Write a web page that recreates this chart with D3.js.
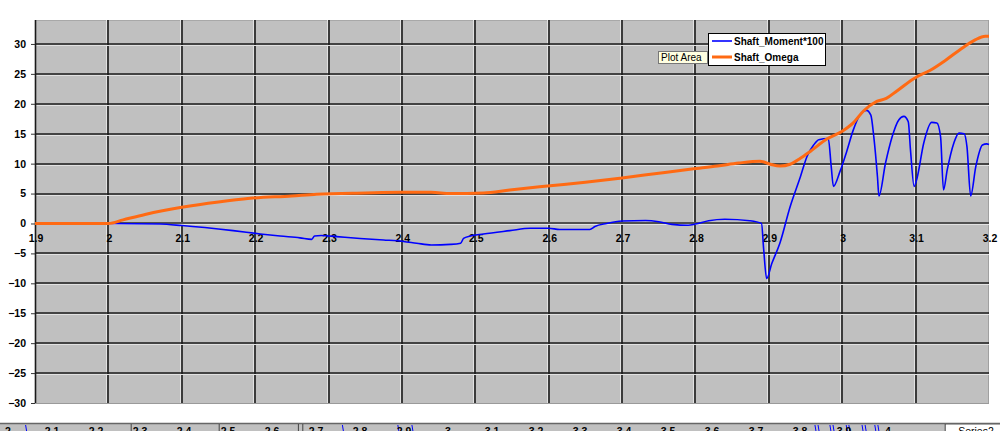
<!DOCTYPE html>
<html>
<head>
<meta charset="utf-8">
<script src="https://cdn.jsdelivr.net/npm/d3@7"></script>
<style>
  body { margin: 0; background: #fff; }
  svg { display: block; font-family: "Liberation Sans", Arial, sans-serif; }
</style>
</head>
<body>
<div id="chart"></div>
<script>
const width = 1000;
const height = 431;

// Shaft_Omega (orange)
const omegaT = [1.9, 2.0, 2.02, 2.05, 2.1, 2.15, 2.193, 2.25, 2.284, 2.35, 2.398, 2.44, 2.466, 2.511, 2.547, 2.602, 2.65, 2.7, 2.75, 2.795, 2.83, 2.859, 2.888, 2.902, 2.915, 2.929, 2.943, 2.956, 2.979, 3.0, 3.015, 3.029, 3.047, 3.06, 3.074, 3.1, 3.12, 3.14, 3.16, 3.18, 3.195, 3.2];
const omegaV = [0, 0, 0.6, 1.5, 2.7, 3.6, 4.2, 4.6, 4.9, 5.1, 5.2, 5.2, 5.0, 5.1, 5.6, 6.3, 6.9, 7.6, 8.4, 9.1, 9.6, 10.1, 10.4, 9.9, 9.6, 9.9, 10.9, 12.0, 14.1, 15.4, 16.8, 18.8, 20.4, 20.9, 22.1, 24.4, 25.6, 27.2, 29.0, 30.6, 31.3, 31.3];

// Shaft_Moment*100 (blue)
const momentT = [1.9, 2.0, 2.07, 2.1, 2.17, 2.207, 2.234, 2.261, 2.277, 2.281, 2.29, 2.311, 2.343, 2.375, 2.402, 2.42, 2.44, 2.466, 2.48, 2.484, 2.493, 2.511, 2.547, 2.575, 2.6, 2.615, 2.656, 2.663, 2.679, 2.7, 2.732, 2.75, 2.768, 2.79, 2.8, 2.818, 2.84, 2.874, 2.89, 2.893, 2.897, 2.904, 2.915, 2.929, 2.943, 2.952, 2.961, 2.968, 2.981, 2.985, 2.988, 2.997, 3.006, 3.015, 3.024, 3.033, 3.039, 3.043, 3.048, 3.05, 3.059, 3.068, 3.077, 3.084, 3.09, 3.093, 3.098, 3.102, 3.111, 3.122, 3.129, 3.134, 3.138, 3.143, 3.152, 3.159, 3.166, 3.17, 3.175, 3.182, 3.191, 3.197, 3.2];
const momentV = [0, 0, -0.1, -0.35, -1.2, -1.75, -2.1, -2.4, -2.65, -2.1, -2.0, -2.2, -2.5, -2.75, -3.0, -3.3, -3.6, -3.5, -3.3, -2.5, -2.1, -1.75, -1.2, -0.8, -0.8, -1.0, -1.0, -0.5, 0.0, 0.4, 0.5, 0.3, -0.15, -0.3, -0.1, 0.45, 0.7, 0.45, 0.0, -4.4, -9.2, -6.7, -3.3, 2.8, 7.8, 11.2, 13.1, 14.0, 14.2, 9.5, 6.2, 8.7, 12.0, 15.6, 18.1, 18.9, 18.1, 14.5, 7.8, 4.6, 10.1, 14.5, 17.3, 17.9, 17.0, 12.3, 6.2, 7.6, 13.4, 16.9, 16.8, 14.5, 5.6, 8.9, 13.4, 15.1, 15.0, 12.8, 4.6, 9.5, 13.1, 13.3, 13.2];

const xTicks = [1.9, 2.0, 2.1, 2.2, 2.3, 2.4, 2.5, 2.6, 2.7, 2.8, 2.9, 3.0, 3.1, 3.2];
const yTicks = [-30, -25, -20, -15, -10, -5, 0, 5, 10, 15, 20, 25, 30];
const seriesNames = ["Shaft_Moment*100", "Shaft_Omega"];
const seriesColors = ["#0000ff", "#ff6a13"];

// cut-off strip of a second chart at the bottom edge
const stripTicks = [2.0, 2.1, 2.2, 2.3, 2.4, 2.5, 2.6, 2.7, 2.8, 2.9, 3.0, 3.1, 3.2, 3.3, 3.4, 3.5, 3.6, 3.7, 3.8, 3.9, 4.0];
const stripDividers = [2.28, 2.48, 2.66, 2.67, 4.13, 4.27];
const stripBlue = [2.04, 2.76, 2.886, 2.918, 3.834, 3.841, 3.868, 3.875, 3.905, 3.911, 3.941, 3.948, 3.970, 3.977];

const margin = { left: 35, right: 11, top: 20, bottom: 28 };

const svg = d3
  .select("#chart")
  .append("svg")
  .attr("width", width)
  .attr("height", height);

const x = d3
  .scaleLinear()
  .domain([1.9, 3.2])
  .range([margin.left, width - margin.right]);

const y = d3
  .scaleLinear()
  .domain([-30, 34])
  .range([height - margin.bottom, margin.top]);

// plot area
svg
  .append("rect")
  .attr("x", x(1.9))
  .attr("y", y(34))
  .attr("width", x(3.2) - x(1.9))
  .attr("height", y(-30) - y(34))
  .attr("fill", "#c0c0c0");

svg
  .append("line")
  .attr("x1", x(1.9))
  .attr("x2", x(3.2))
  .attr("y1", y(34) + 0.5)
  .attr("y2", y(34) + 0.5)
  .attr("stroke", "#a8a8a8");
svg
  .append("line")
  .attr("x1", x(3.2) - 0.5)
  .attr("x2", x(3.2) - 0.5)
  .attr("y1", y(34))
  .attr("y2", y(-30))
  .attr("stroke", "#a0a0a0");
svg
  .append("line")
  .attr("x1", x(1.9))
  .attr("x2", x(3.2))
  .attr("y1", y(-30) + 0.5)
  .attr("y2", y(-30) + 0.5)
  .attr("stroke", "#9a9a9a");

// gridlines with a light edge for the 3D look
const grid = svg.append("g");
grid
  .selectAll(".vl")
  .data(xTicks.slice(1, -1))
  .join("line")
  .attr("x1", (d) => Math.round(x(d)) - 1.5)
  .attr("x2", (d) => Math.round(x(d)) - 1.5)
  .attr("y1", y(34))
  .attr("y2", y(-30))
  .attr("stroke", "#e2e2e2");
grid
  .selectAll(".vd")
  .data(xTicks.slice(1, -1))
  .join("line")
  .attr("x1", (d) => Math.round(x(d)))
  .attr("x2", (d) => Math.round(x(d)))
  .attr("y1", y(34))
  .attr("y2", y(-30))
  .attr("stroke", "#1a1a1a")
  .attr("stroke-width", 1.6);
grid
  .selectAll(".hl")
  .data(yTicks.slice(1))
  .join("line")
  .attr("x1", x(1.9))
  .attr("x2", x(3.2))
  .attr("y1", (d) => Math.round(y(d)) + 1.5)
  .attr("y2", (d) => Math.round(y(d)) + 1.5)
  .attr("stroke", "#e2e2e2");
grid
  .selectAll(".hd")
  .data(yTicks.slice(1))
  .join("line")
  .attr("x1", x(1.9))
  .attr("x2", x(3.2))
  .attr("y1", (d) => Math.round(y(d)))
  .attr("y2", (d) => Math.round(y(d)))
  .attr("stroke", (d) => (d === 0 ? "#505050" : "#1a1a1a"))
  .attr("stroke-width", (d) => (d === 0 ? 2 : 1.6));

// y axis
const yAxis = svg
  .append("g")
  .attr("transform", `translate(${x(1.9)},0)`)
  .call(
    d3
      .axisLeft(y)
      .tickValues(yTicks)
      .tickSize(4)
      .tickPadding(5)
      .tickFormat(d3.format("d"))
  );
yAxis.select(".domain").attr("stroke", "#1a1a1a").attr("stroke-width", 1.6).attr("d", `M0.5,${y(34)}V${y(-30)}`);
yAxis.selectAll(".tick line").attr("stroke", "#333");
yAxis
  .selectAll(".tick text")
  .attr("fill", "#000")
  .style("font-size", "10.5px")
  .style("font-weight", "bold");

// x labels along zero line
svg
  .append("g")
  .selectAll("text")
  .data(xTicks)
  .join("text")
  .attr("x", (d) => x(d) + 1)
  .attr("y", y(0) + 19)
  .attr("text-anchor", "middle")
  .style("font-size", "10.5px")
  .style("font-weight", "bold")
  .text((d) => (d === 2 ? "2" : d === 3 ? "3" : d3.format(".1f")(d)));

// lines
const momentData = momentT.map((t, i) => [t, momentV[i]]);
const omegaData = omegaT.map((t, i) => [t, omegaV[i]]);

const line = d3
  .line()
  .x((d) => x(d[0]))
  .y((d) => y(d[1]))
  .curve(d3.curveMonotoneX);

svg
  .append("path")
  .datum(momentData)
  .attr("d", line)
  .attr("fill", "none")
  .attr("stroke", seriesColors[0])
  .attr("stroke-width", 1.6);

svg
  .append("path")
  .datum(omegaData)
  .attr("d", line)
  .attr("fill", "none")
  .attr("stroke", seriesColors[1])
  .attr("stroke-width", 3);

// legend
const legend = svg.append("g").attr("transform", "translate(708,33)");
legend
  .append("rect")
  .attr("x", 0.5)
  .attr("y", 0.5)
  .attr("width", 117)
  .attr("height", 32)
  .attr("fill", "#fff")
  .attr("stroke", "#000");
seriesNames.forEach((name, i) => {
  legend
    .append("line")
    .attr("x1", 4)
    .attr("x2", 24)
    .attr("y1", 8 + i * 16)
    .attr("y2", 8 + i * 16)
    .attr("stroke", seriesColors[i])
    .attr("stroke-width", i === 0 ? 1.6 : 3);
  legend
    .append("text")
    .attr("x", 26)
    .attr("y", 12 + i * 16)
    .style("font-size", "10px")
    .style("font-weight", "bold")
    .text(name);
});

// "Plot Area" tooltip
const tip = svg.append("g").attr("transform", "translate(658,51)");
tip
  .append("rect")
  .attr("x", 0.5)
  .attr("y", 0.5)
  .attr("width", 49)
  .attr("height", 12)
  .attr("fill", "#ffffe1")
  .attr("stroke", "#777");
tip
  .append("text")
  .attr("x", 3)
  .attr("y", 10)
  .style("font-size", "10px")
  .text("Plot Area");

// bottom strip (another chart, cut off)
const sx = d3.scaleLinear().domain([2.0, 4.0]).range([8, 888]);
const strip = svg.append("g");
strip
  .append("rect")
  .attr("x", 0)
  .attr("y", 424)
  .attr("width", width)
  .attr("height", 8)
  .attr("fill", "#c0c0c0");
strip
  .append("rect")
  .attr("x", sx(4.13))
  .attr("y", 425)
  .attr("width", sx(4.27) - sx(4.13))
  .attr("height", 7)
  .attr("fill", "#fff");
strip
  .append("line")
  .attr("x1", 0)
  .attr("x2", width)
  .attr("y1", 423.5)
  .attr("y2", 423.5)
  .attr("stroke", "#666")
  .attr("stroke-width", 1.5);
strip
  .selectAll(".div")
  .data(stripDividers)
  .join("line")
  .attr("x1", (d) => sx(d))
  .attr("x2", (d) => sx(d))
  .attr("y1", 424)
  .attr("y2", 431)
  .attr("stroke", "#444");
strip
  .selectAll(".bl")
  .data(stripBlue)
  .join("line")
  .attr("x1", (d) => sx(d))
  .attr("x2", (d) => sx(d) + 1)
  .attr("y1", 425)
  .attr("y2", 431)
  .attr("stroke", "#0000ff");
strip
  .selectAll("text")
  .data(stripTicks)
  .join("text")
  .attr("x", (d) => sx(d))
  .attr("y", 435)
  .attr("text-anchor", "middle")
  .style("font-size", "10.5px")
  .style("font-weight", "bold")
  .text((d) => (d === 2 ? "2" : d === 3 ? "3" : d === 4 ? "4" : d3.format(".1f")(d)));
strip
  .append("text")
  .attr("x", sx(4.2))
  .attr("y", 435)
  .attr("text-anchor", "middle")
  .style("font-size", "10.5px")
  .text("Series2");
</script>
</body>
</html>
